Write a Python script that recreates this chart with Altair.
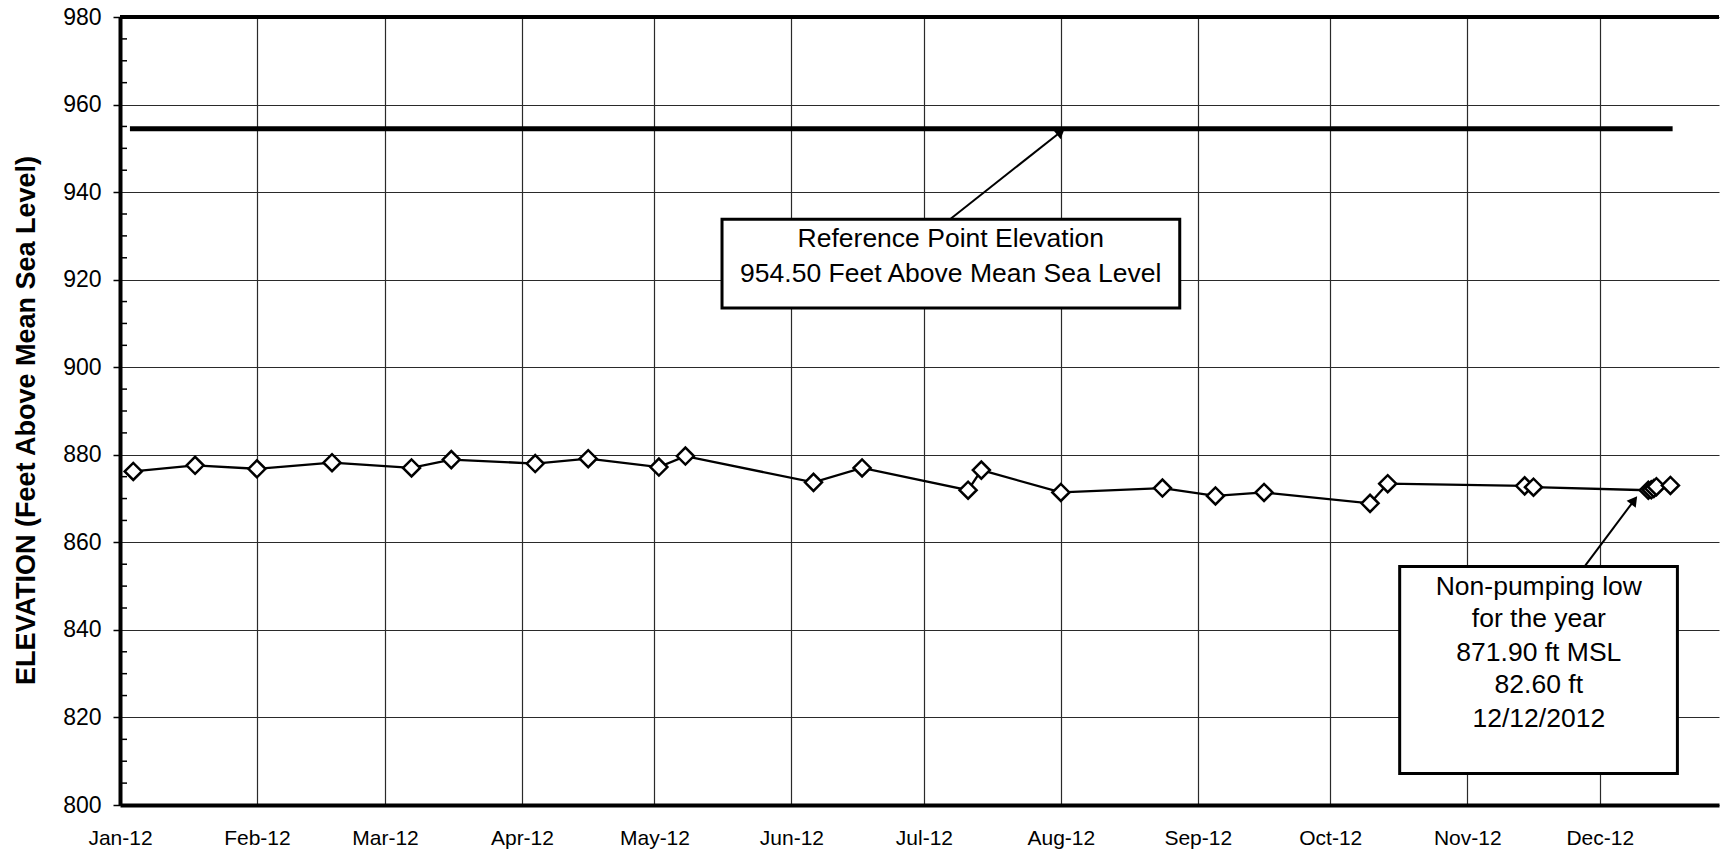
import altair as alt
import pandas as pd

# ---- measured water levels (ft above mean sea level) ----
dates = ["2012-01-04", "2012-01-18", "2012-02-01", "2012-02-18", "2012-03-07",
         "2012-03-16", "2012-04-04", "2012-04-16", "2012-05-02", "2012-05-08",
         "2012-06-06", "2012-06-17", "2012-07-11", "2012-07-14", "2012-08-01",
         "2012-08-24", "2012-09-05", "2012-09-16", "2012-10-10", "2012-10-14",
         "2012-11-14", "2012-11-16", "2012-12-12T00:00", "2012-12-12T16:00",
         "2012-12-13T06:00", "2012-12-13T20:00", "2012-12-17"]
elevations = [876.2, 877.6, 876.8, 878.2, 877.0,
              878.9, 878.0, 879.1, 877.2, 879.7,
              873.7, 877.0, 871.9, 876.5, 871.4,
              872.4, 870.6, 871.4, 868.9, 873.4,
              872.9, 872.6, 871.9, 872.0,
              872.3, 872.7, 873.0]

# ---- reference point elevation ----
ref_elev = 954.5
ref_start = "2012-01-03T06:00"
ref_end = "2012-12-17T12:00"

# ---- annotation text ----
box1_lines = ["Reference Point Elevation", "954.50 Feet Above Mean Sea Level"]
box1_line_elev = [929.3, 921.4]
box1_center = "2012-07-07T02:00"
box1_x = ["2012-05-16T07:00", "2012-08-27T22:00"]
box1_y = [933.8, 913.5]
arrow1 = {"from": ("2012-07-06T22:00", 933.8), "to": ("2012-08-01T00:00", 953.8), "angle": 51}

box2_lines = ["Non-pumping low", "for the year", "871.90 ft MSL", "82.60 ft", "12/12/2012"]
box2_line_elev = [849.9, 842.4, 834.7, 827.3, 819.7]
box2_center = "2012-11-17T05:00"
box2_x = ["2012-10-16T17:00", "2012-12-18T14:00"]
box2_y = [854.5, 807.2]
arrow2 = {"from": ("2012-11-27T14:00", 854.5), "to": ("2012-12-08T19:00", 869.6), "angle": 37}

y_major = list(range(800, 981, 20))
y_minor = [v for v in range(800, 981, 5) if v % 20 != 0]

W, H = 1599, 788
FONT = "Liberation Sans, Arial, sans-serif"


def ts(s):
    if "T" not in s:
        s = s + "T00:00"
    return s + ":00" if s.count(":") == 1 else s


pts = pd.DataFrame({"date": [ts(d) for d in dates], "elev": elevations})
ref = pd.DataFrame({"date": [ts(ref_start)], "date2": [ts(ref_end)], "elev": [ref_elev]})
minor = pd.DataFrame({"elev": y_minor})
top = pd.DataFrame({"elev": [980]})
boxes = pd.DataFrame({
    "date": [ts(box1_x[0]), ts(box2_x[0])],
    "date2": [ts(box1_x[1]), ts(box2_x[1])],
    "elev": [box1_y[0], box2_y[0]],
    "elev2": [box1_y[1], box2_y[1]],
})
texts = pd.DataFrame({
    "date": [ts(box1_center)] * len(box1_lines) + [ts(box2_center)] * len(box2_lines),
    "elev": box1_line_elev + box2_line_elev,
    "label": box1_lines + box2_lines,
})
arrows = pd.DataFrame({
    "date": [ts(arrow1["from"][0]), ts(arrow2["from"][0])],
    "elev": [arrow1["from"][1], arrow2["from"][1]],
    "date2": [ts(arrow1["to"][0]), ts(arrow2["to"][0])],
    "elev2": [arrow1["to"][1], arrow2["to"][1]],
})
heads = pd.DataFrame({
    "date": [ts(arrow1["to"][0]), ts(arrow2["to"][0])],
    "elev": [arrow1["to"][1], arrow2["to"][1]],
    "ang": [arrow1["angle"], arrow2["angle"]],
})

xscale = alt.Scale(domain=[alt.DateTime(year=2012, month=1, date=1),
                           alt.DateTime(year=2012, month=12, date=28)], nice=False)
yscale = alt.Scale(domain=[800, 980], nice=False, zero=False)

xaxis = alt.Axis(
    values=[alt.DateTime(year=2012, month=m, date=1) for m in range(1, 13)],
    format="%b-%y", title=None, labelFont=FONT, labelFontSize=21, labelColor="black",
    ticks=False, tickSize=0, labelPadding=22, labelFlush=False, labelOverlap=False,
    domainColor="black", domainWidth=4, grid=True, gridColor="#2a2a2a",
    gridWidth=1.2, gridOpacity=1,
)
yaxis = alt.Axis(
    values=y_major, title="ELEVATION (Feet Above Mean Sea Level)",
    titleFont=FONT, titleFontSize=27, titleFontWeight="bold", titleColor="black",
    titleX=-94, titleY=403, titleAngle=270, titleBaseline="middle", titleAlign="center",
    labelFont=FONT, labelFontSize=23, labelColor="black", labelPadding=12,
    tickSize=7, tickColor="black", tickWidth=1.5,
    domainColor="black", domainWidth=4, grid=True, gridColor="#2a2a2a",
    gridWidth=1.2, gridOpacity=1,
)

X = alt.X("date:T", scale=xscale, axis=xaxis)
Y = alt.Y("elev:Q", scale=yscale, axis=yaxis)

ref_layer = alt.Chart(ref).mark_rule(color="black", strokeWidth=5, strokeCap="butt").encode(
    x=X, x2="date2:T", y=Y)
line_layer = alt.Chart(pts).mark_line(color="black", strokeWidth=2.3).encode(x=X, y=Y)
pt_layer = alt.Chart(pts).mark_point(shape="diamond", filled=True, fill="white",
                                     stroke="black", strokeWidth=2.5, size=290,
                                     opacity=1).encode(x=X, y=Y)
minor_layer = alt.Chart(minor).mark_rule(color="black", strokeWidth=1.5).encode(
    x=alt.value(0), x2=alt.value(7), y=Y)
top_layer = alt.Chart(top).mark_rule(color="black", strokeWidth=4).encode(
    x=alt.value(0), x2=alt.value(W), y=Y)
arrow_layer = alt.Chart(arrows).mark_rule(color="black", strokeWidth=2).encode(
    x=X, x2="date2:T", y=Y, y2="elev2:Q")
head_layer = alt.Chart(heads).mark_point(shape="triangle-up", filled=True, color="black",
                                         size=130, opacity=1).encode(
    x=X, y=Y, angle=alt.Angle("ang:Q", scale=None))
box_layer = alt.Chart(boxes).mark_rect(fill="white", stroke="black", strokeWidth=3).encode(
    x=X, x2="date2:T", y=Y, y2="elev2:Q")
text_layer = alt.Chart(texts).mark_text(font=FONT, fontSize=26.5, color="black",
                                        align="center", baseline="middle").encode(
    x=X, y=Y, text="label:N")

chart = alt.layer(
    ref_layer, line_layer, pt_layer, minor_layer, top_layer,
    arrow_layer, box_layer, text_layer, head_layer,
).properties(
    width=W, height=H,
    autosize=alt.AutoSizeParams(type="none"),
    padding={"left": 112, "top": 9, "right": 2, "bottom": 44},
    background="white",
).configure_view(stroke=None)

chart.save("out.html", embed_options={"renderer": "svg", "actions": False})
